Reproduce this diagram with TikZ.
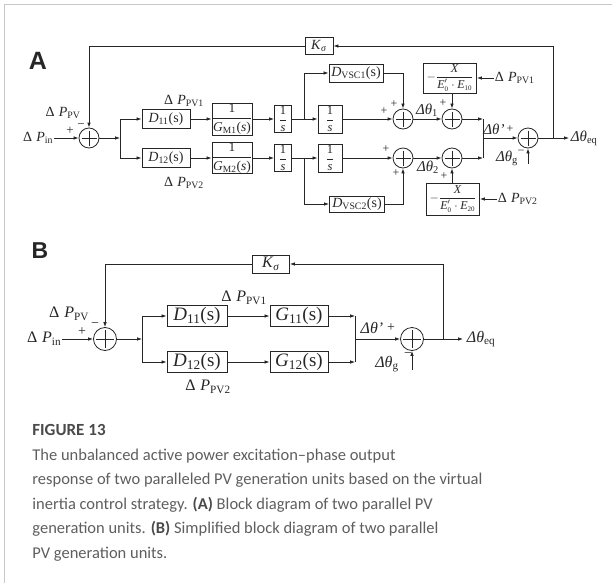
\documentclass[tikz,border=0pt]{standalone}
\usepackage{fontspec}
\usepackage{amsmath}
\setmainfont{Liberation Serif}
\newfontfamily\capfont{Carlito}
\newfontfamily\hdfont{Liberation Sans}
\usetikzlibrary{arrows.meta,calc}
\definecolor{ln}{HTML}{262626}
\definecolor{framec}{HTML}{C8C8C8}
\definecolor{capc}{HTML}{5E5E5E}
\definecolor{capb}{HTML}{4A4A4A}
\newcommand\fs[1]{\fontsize{#1}{#1}\selectfont}
\newcommand\dP[1]{Δ\hspace{0.3em}\textit{P}\textsubscript{#1}}
\newcommand\dth[1]{\textit{Δθ}\textsubscript{#1}}
\begin{document}
\begin{tikzpicture}[x=1pt,y=-1pt,line width=0.8pt,color=ln,
  >={Latex[length=5pt,width=3.6pt]},
  blk/.style={draw,rectangle,inner sep=0pt,line width=0.9pt},
  sumc/.style={circle,draw,inner sep=0pt,minimum size=#1,
    path picture={\draw[line width=0.8pt]
      ([xshift=2.5pt]path picture bounding box.west) -- ([xshift=-2.5pt]path picture bounding box.east)
      ([yshift=-2.5pt]path picture bounding box.north) -- ([yshift=2.5pt]path picture bounding box.south);}},
  sumc/.default=20pt,
  lbl/.style={inner sep=0.5pt},
  arr/.style={->},
  caption/.style={anchor=base west,inner sep=0pt,text=capc,font=\capfont\fs{16.5}}]
\useasboundingbox (0,0) rectangle (612,583);
\draw[framec,line width=1pt] (4,583) -- (4,5) -- (612,5);

% ---------------- A ----------------
\node[inner sep=0pt,font=\hdfont\bfseries\fs{25}] (hA) at (38,61) {A};
\node[blk,minimum width=28pt,minimum height=17pt,font=\fs{14}] (ka) at (319,46) {\textit{K}\textsubscript{\textit{σ}}};
\node[sumc] (sa) at (89,138) {};
\node[lbl,anchor=east,font=\fs{14}] (pin) at (54,138) {\dP{in}};
\node[lbl,font=\fs{14}] (ppv) at (63,113) {\dP{PV}};
\node[lbl,font=\fs{13}] (pa1) at (70,131) {+};
\node[lbl,font=\fs{13}] (ma1) at (81,126) {−};
\coordinate (ba) at (120,138);
\node[blk,minimum width=48pt,minimum height=19pt,font=\fs{14}] (d11) at (166,119) {\textit{D}\textsubscript{11}(s)};
\node[blk,minimum width=48pt,minimum height=19pt,font=\fs{14}] (d12) at (166,158) {\textit{D}\textsubscript{12}(s)};
\node[lbl,font=\fs{14}] (pv1a) at (184,101) {\dP{PV1}};
\node[lbl,font=\fs{14}] (pv2a) at (184,183) {\dP{PV2}};
\node[blk,minimum width=40pt,minimum height=32pt,font=\fs{13.5}] (g1) at (232,119) {$\dfrac{\mbox{1}}{\mbox{\textit{G}\textsubscript{M1}(\textit{s})}}$};
\node[blk,minimum width=40pt,minimum height=30pt,font=\fs{13.5}] (g2) at (232,158) {$\dfrac{\mbox{1}}{\mbox{\textit{G}\textsubscript{M2}(\textit{s})}}$};
\node[blk,minimum width=17pt,minimum height=27pt,font=\fs{12.5}] (i1) at (283,119) {$\dfrac{\mbox{1}}{\mbox{\textit{s}}}$};
\node[blk,minimum width=17pt,minimum height=27pt,font=\fs{12.5}] (i2) at (283,158) {$\dfrac{\mbox{1}}{\mbox{\textit{s}}}$};
\coordinate (bt) at (304,119);
\coordinate (bb) at (304,158);
\node[blk,minimum width=24pt,minimum height=28pt,font=\fs{12.5}] (i3) at (330,119) {$\dfrac{\mbox{1}}{\mbox{\textit{s}}}$};
\node[blk,minimum width=24pt,minimum height=28pt,font=\fs{12.5}] (i4) at (330,158) {$\dfrac{\mbox{1}}{\mbox{\textit{s}}}$};
\node[blk,minimum width=54pt,minimum height=18pt,font=\fs{14}] (dv1) at (356,73) {\textit{D}\textsubscript{VSC1}(s)};
\node[blk,minimum width=55pt,minimum height=16pt,font=\fs{14}] (dv2) at (357,204) {\textit{D}\textsubscript{VSC2}(s)};
\node[sumc] (s1) at (403,119) {};
\node[sumc] (s4) at (403,158) {};
\node[sumc] (s2) at (452,119) {};
\node[sumc] (s5) at (452,158) {};
\node[blk,minimum width=53pt,minimum height=30pt,font=\fs{12}] (xb1) at (450,78)
  {$-\dfrac{\mbox{\textit{X}}}{\mbox{\textit{E}}'_{\mbox{\fs{7}0}}\cdot\mbox{\textit{E}}_{\mbox{\fs{7}10}}}$};
\node[blk,minimum width=53pt,minimum height=32pt,font=\fs{12}] (xb2) at (453,199)
  {$-\dfrac{\mbox{\textit{X}}}{\mbox{\textit{E}}'_{\mbox{\fs{7}0}}\cdot\mbox{\textit{E}}_{\mbox{\fs{7}20}}}$};
\node[lbl,anchor=west,font=\fs{14}] (pv1r) at (494,78) {\dP{PV1}};
\node[lbl,anchor=west,font=\fs{14}] (pv2r) at (497,199) {\dP{PV2}};
\node[lbl,font=\fs{12}] (p11) at (384,111) {+};
\node[lbl,font=\fs{12}] (p12) at (394,104) {+};
\node[lbl,font=\fs{15}] (t1) at (427,110) {\dth{1}};
\node[lbl,font=\fs{12}] (p21) at (443,103) {+};
\node[lbl,font=\fs{12}] (p41) at (386,149) {+};
\node[lbl,font=\fs{12}] (p42) at (396,173) {+};
\node[lbl,font=\fs{15}] (t2) at (428,167) {\dth{2}};
\node[lbl,font=\fs{12}] (p51) at (444,176) {+};
\coordinate (jt) at (483,119);
\coordinate (jb) at (483,158);
\coordinate (jm) at (483,138);
\node[sumc] (s3) at (528,138) {};
\node[lbl,font=\fs{15}] (tp) at (494,129) {\textit{Δθ'}};
\node[lbl,font=\fs{12}] (p31) at (510,129) {+};
\node[lbl,font=\fs{12}] (m31) at (521,152) {−};
\node[lbl,font=\fs{15}] (tg) at (507,158) {\dth{g}};
\coordinate (ga) at (528,164);
\coordinate (fa) at (553,138);
\coordinate (oa) at (569,138);
\node[lbl,anchor=west,font=\fs{15}] (teq) at (570,138) {\dth{eq}};

\draw[arr] (pin.east) -- (sa.west);
\draw[arr] (sa.east) -- (ba);
\draw (ba |- d11) -- (ba |- d12);
\draw[arr] (ba |- d11) -- (d11.west);
\draw[arr] (ba |- d12) -- (d12.west);
\draw[arr] (d11.east) -- (g1.west);
\draw[arr] (d12.east) -- (g2.west);
\draw[arr] (g1.east) -- (i1.west);
\draw[arr] (g2.east) -- (i2.west);
\draw (i1.east) -- (bt);
\draw (i2.east) -- (bb);
\draw[arr] (bt) -- (i3.west);
\draw[arr] (bb) -- (i4.west);
\draw[arr] (bt) |- (dv1.west);
\draw[arr] (bb) |- (dv2.west);
\draw[arr] (i3.east) -- (s1.west);
\draw[arr] (i4.east) -- (s4.west);
\draw[arr] (dv1.east) -| (s1.north);
\draw[arr] (dv2.east) -| (s4.south);
\draw[arr] (s1.east) -- (s2.west);
\draw[arr] (s4.east) -- (s5.west);
\draw[arr] (xb1.south -| s2) -- (s2.north);
\draw[arr] (xb2.north -| s5) -- (s5.south);
\draw[arr] (pv1r.west) -- (xb1.east);
\draw[arr] (pv2r.west) -- (xb2.east);
\draw[arr] (s2.east) -- (jt);
\draw[arr] (s5.east) -- (jb);
\draw (jt) -- (jb);
\draw[arr] (jm) -- (s3.west);
\draw[arr] (ga) -- (s3.south);
\draw[arr] (s3.east) -- (oa);
\draw[arr] (fa) |- (ka.east);
\draw[arr] (ka.west) -| (sa.north);

% ---------------- B ----------------
\node[inner sep=0pt,font=\hdfont\bfseries\fs{23}] (hB) at (40,251) {B};
\node[blk,minimum width=37pt,minimum height=18pt,font=\fs{16}] (kb) at (271,264) {\textit{K}\textsubscript{\textit{σ}}};
\node[sumc=23pt] (sb) at (105,339) {};
\node[lbl,anchor=east,font=\fs{16}] (pinb) at (62,339) {\dP{in}};
\node[lbl,font=\fs{16}] (ppvb) at (69,314) {\dP{PV}};
\node[lbl,font=\fs{14}] (pb1) at (82,332) {+};
\node[lbl,font=\fs{14}] (mb1) at (95,325) {−};
\coordinate (cb) at (142,339);
\node[blk,minimum width=60pt,minimum height=21pt,font=\fs{19}] (db1) at (197,316) {\textit{D}\textsubscript{11}(s)};
\node[blk,minimum width=60pt,minimum height=21pt,font=\fs{19}] (db2) at (197,362) {\textit{D}\textsubscript{12}(s)};
\node[blk,minimum width=58pt,minimum height=21pt,font=\fs{19}] (gb1) at (299,316) {\textit{G}\textsubscript{11}(s)};
\node[blk,minimum width=58pt,minimum height=21pt,font=\fs{19}] (gb2) at (299,362) {\textit{G}\textsubscript{12}(s)};
\node[lbl,font=\fs{16}] (pv1b) at (244,298) {\dP{PV1}};
\node[lbl,font=\fs{16}] (pv2b) at (208,387) {\dP{PV2}};
\coordinate (jbt) at (355,316);
\coordinate (jbb) at (355,362);
\coordinate (jbm) at (355,339);
\node[sumc=23pt] (sb2) at (412,339) {};
\node[lbl,font=\fs{16}] (tpb) at (372,328) {\textit{Δθ'}};
\node[lbl,font=\fs{14}] (pb2) at (391,328) {+};
\node[lbl,font=\fs{14}] (mb2) at (408,355) {−};
\node[lbl,font=\fs{16}] (tgb) at (387,364) {\dth{g}};
\coordinate (gb) at (412,370);
\coordinate (fb) at (443,339);
\coordinate (ob) at (463,339);
\node[lbl,anchor=west,font=\fs{16}] (teqb) at (466,339) {\dth{eq}};

\draw[arr] (pinb.east) -- (sb.west);
\draw[arr] (sb.east) -- (cb);
\draw (cb |- db1) -- (cb |- db2);
\draw[arr] (cb |- db1) -- (db1.west);
\draw[arr] (cb |- db2) -- (db2.west);
\draw[arr] (db1.east) -- (gb1.west);
\draw[arr] (db2.east) -- (gb2.west);
\draw[arr] (gb1.east) -- (jbt);
\draw[arr] (gb2.east) -- (jbb);
\draw (jbt) -- (jbb);
\draw[arr] (jbm) -- (sb2.west);
\draw[arr] (gb) -- (sb2.south);
\draw[arr] (sb2.east) -- (ob);
\draw[arr] (fb) |- (kb.east);
\draw[arr] (kb.west) -| (sb.north);

% ---------------- caption ----------------
\node[caption,text=capb,font=\capfont\bfseries\fs{17}] (cap0) at (32,435) {FIGURE 13};
\node[caption] (cap1) at (32,460) {The unbalanced active power excitation–phase output};
\node[caption] (cap2) at (32,484.5) {response of two paralleled PV generation units based on the virtual};
\node[caption] (cap3) at (32,509) {inertia control strategy. \textcolor{capb}{\bfseries(A)} Block diagram of two parallel PV};
\node[caption] (cap4) at (32,533.5) {generation units. \textcolor{capb}{\bfseries(B)} Simplified block diagram of two parallel};
\node[caption] (cap5) at (32,558) {PV generation units.};
\end{tikzpicture}
\end{document}
